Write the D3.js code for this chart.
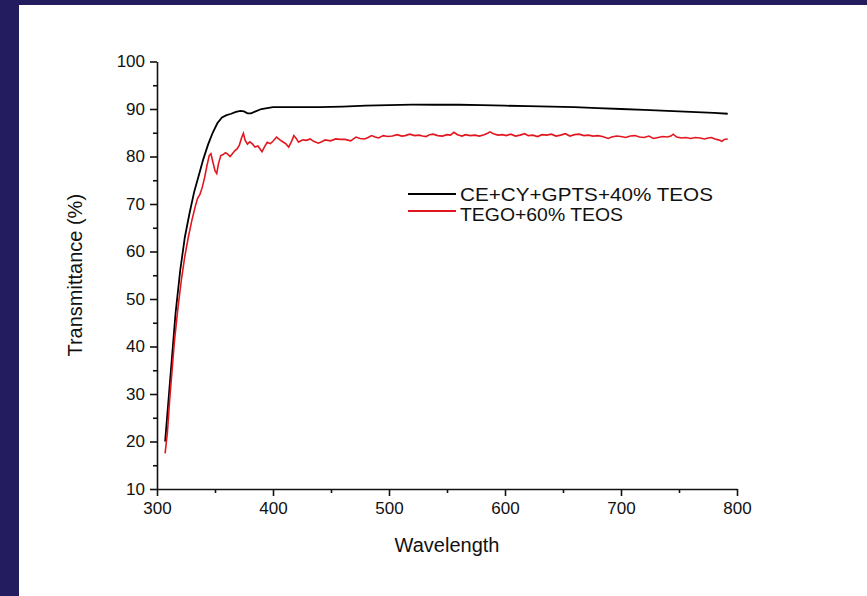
<!DOCTYPE html>
<html>
<head>
<meta charset="utf-8">
<script src="https://cdn.jsdelivr.net/npm/d3@7"></script>
<style>
  html, body { margin: 0; padding: 0; background: #231d5f; }
  #chart { position: absolute; left: 19px; top: 5px; width: 848px; height: 591px; background: #fff; }
  svg { position: absolute; left: 0; top: 0; font-family: "Liberation Sans", Arial, sans-serif; }
</style>
</head>
<body>
<div id="chart"></div>
<script>
// series: wavelength (nm) / transmittance (%)
var blackWl = [307,310,313,316,320,324,328,332,336,340,344,348,352,356,360,364,368,372,375,378,381,385,390,395,400,410,420,440,460,480,500,520,540,560,580,600,620,640,660,680,700,720,740,760,780,792];
var blackT  = [20,29,38,47,56,63,68,72.5,76,79.5,82.5,85,87,88.2,88.7,89,89.4,89.6,89.5,89.1,89.1,89.5,90,90.2,90.4,90.4,90.4,90.4,90.5,90.7,90.8,90.9,90.9,90.9,90.8,90.7,90.6,90.5,90.4,90.2,90,89.8,89.6,89.4,89.2,89.0];

var redWl = [307,309,311,313,315,318,321,324,327,330,333,335,337,339,341,343,345,346.5,348,350,351.5,353,355,357,359,361,363,365,367,369,371,373,374.5,376,378,380,382,384.5,387,390.5,393,395,397.7,
  400,403,406,409,411,413.5,416,418,420,422,424,426,429,432,435,439,442,445,449.6,454,458,462,467,471.5,475,479,482,485,488,491,495,499,503,507,511,514,518,522,526,529,532,535,538,542,546,550,553,556,559,563,566,570,574,578,582,585,587,590,594,598,
  601,605,609,613,617,620,624,628,632,636,640,644,648,652,656,660,664,668,672,676,680,684,689,692,696,700,704,708,712,716,720,724,728,732,736,740,743,745,748,752,756,760,764,768,772,775,778,781,784,787,789,792];
var redT = [17.5,22,29,35,41,48,54,59,63,66.5,69.5,71.2,72,73.5,75.5,78,80.2,80.6,79,77,76.4,78.5,80.2,80.4,80.8,80.5,80,80.6,81.2,81.6,82.4,84,84.9,83.4,82.6,83.1,82.7,82,82.2,81,82.2,83,82.7,
  83.2,84.1,83.5,83,82.7,82,83.2,84.4,83.8,83,83.3,83.5,83.4,83.7,83.2,82.8,83.1,83.5,83.3,83.7,83.6,83.6,83.3,84.1,83.8,83.7,84,84.4,84.1,83.9,84.4,84.2,84.3,84.6,84.3,84.4,84.7,84.4,84.5,84.3,84.2,84.6,84.7,84.4,84.3,84.6,84.5,85.1,84.6,84.3,84.6,84.4,84.5,84.3,84.6,84.9,85.2,84.8,84.5,84.6,
  84.4,84.7,84.3,84.5,84.8,84.4,84.5,84.2,84.6,84.5,84.7,84.3,84.5,84.8,84.3,84.6,84.7,84.4,84.5,84.3,84.4,84.2,83.8,84.1,84.3,84.2,84,84.3,84.4,84.1,84,84.3,83.8,84,84.2,84.1,84.3,84.7,84.1,83.9,84,83.8,84,83.9,83.7,83.9,84,83.7,83.5,83.2,83.6,83.7];

var seriesNames = ["CE+CY+GPTS+40% TEOS", "TEGO+60% TEOS"];
var seriesColors = ["#000000", "#e2161e"];
var xTicks = [300,400,500,600,700,800];
var yTicks = [10,20,30,40,50,60,70,80,90,100];

var width = 848, height = 591;
var svg = d3.select("#chart").append("svg")
    .attr("width", width)
    .attr("height", height);

// offsets relative to the white panel (panel sits at 19,5)
var x = d3.scaleLinear().domain([300, 800]).range([138, 718]);
var y = d3.scaleLinear().domain([10, 100]).range([484, 56.5]);

// minor ticks
svg.append("g")
    .attr("transform", "translate(0," + y(10) + ")")
    .call(d3.axisBottom(x).tickValues([350,450,550,650,750]).tickSize(4).tickSizeOuter(0).tickFormat(""))
    .call(g => g.select(".domain").remove());
svg.append("g")
    .attr("transform", "translate(" + x(300) + ",0)")
    .call(d3.axisLeft(y).tickValues([15,25,35,45,55,65,75,85,95]).tickSize(4).tickSizeOuter(0).tickFormat(""))
    .call(g => g.select(".domain").remove());

var xAxis = svg.append("g")
    .attr("transform", "translate(0," + y(10) + ")")
    .call(d3.axisBottom(x).tickValues(xTicks).tickSize(7).tickSizeOuter(0).tickPadding(6));
var yAxis = svg.append("g")
    .attr("transform", "translate(" + x(300) + ",0)")
    .call(d3.axisLeft(y).tickValues(yTicks).tickSize(7).tickSizeOuter(0).tickPadding(5));

svg.selectAll(".tick line, .domain").attr("stroke", "#111").attr("stroke-width", 1.6);
xAxis.selectAll("text").attr("font-size", 17).attr("fill", "#111").attr("font-family", "Liberation Sans, Arial, sans-serif");
yAxis.selectAll("text").attr("font-size", 17).attr("fill", "#111").attr("font-family", "Liberation Sans, Arial, sans-serif");

var line = d3.line()
    .x(d => x(d[0]))
    .y(d => y(d[1]));

var blackData = blackWl.map((w, i) => [w, blackT[i]]);
var redData = redWl.map((w, i) => [w, redT[i]]);

svg.append("path").datum(blackData)
    .attr("d", line).attr("fill", "none")
    .attr("stroke", seriesColors[0]).attr("stroke-width", 1.8);
svg.append("path").datum(redData)
    .attr("d", line).attr("fill", "none")
    .attr("stroke", seriesColors[1]).attr("stroke-width", 1.6);

// axis titles
svg.append("text")
    .attr("x", (x(300) + x(800)) / 2).attr("y", 547)
    .attr("text-anchor", "middle").attr("font-size", 20).attr("fill", "#111")
    .text("Wavelength");
svg.append("text")
    .attr("transform", "translate(63," + ((y(10) + y(100)) / 2) + ") rotate(-90)")
    .attr("text-anchor", "middle").attr("font-size", 20).attr("fill", "#111")
    .text("Transmittance (%)");

// legend
var legendWidths = [253, 163];
var legend = svg.append("g").attr("transform", "translate(389,189)");
seriesNames.forEach(function(name, i) {
    legend.append("line")
        .attr("x1", 0).attr("x2", 48)
        .attr("y1", i * 17).attr("y2", i * 17)
        .attr("stroke", seriesColors[i]).attr("stroke-width", 1.8);
    legend.append("text")
        .attr("x", 52).attr("y", i * 20 + 7)
        .attr("font-size", 18.5).attr("fill", "#111")
        .attr("textLength", legendWidths[i]).attr("lengthAdjust", "spacingAndGlyphs")
        .text(name);
});
</script>
</body>
</html>
